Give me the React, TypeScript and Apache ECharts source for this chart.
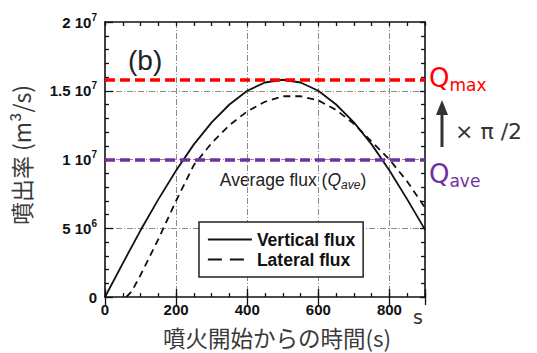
import React, { useEffect, useRef } from "react";
import * as echarts from "echarts";

const verticalTime = [0, 50, 100, 150, 200, 250, 300, 350, 400, 450, 500, 550, 600, 650, 700, 750, 800, 850, 900];
const verticalFlux = [0, 2.45e6, 4.85e6, 7.1e6, 9.2e6, 11.1e6, 12.7e6, 14.0e6, 15.0e6, 15.6e6, 15.8e6, 15.6e6, 15.0e6, 14.0e6, 12.7e6, 11.1e6, 9.2e6, 7.1e6, 4.9e6];
const lateralTime = [60, 75, 100, 125, 150, 175, 200, 250, 300, 350, 400, 450, 500, 550, 600, 650, 700, 750, 800, 850, 900];
const lateralFlux = [0, 0.4e6, 1.6e6, 2.9e6, 4.2e6, 5.6e6, 7.0e6, 9.6e6, 11.2e6, 12.5e6, 13.5e6, 14.2e6, 14.6e6, 14.6e6, 14.3e6, 13.6e6, 12.6e6, 11.3e6, 10.0e6, 8.4e6, 6.5e6];
const qMax = 1.58e7;
const qAve = 1.0e7;
const xTickValues = [0, 200, 400, 600, 800];
const yTickValues = [0, 5e6, 1e7, 1.5e7, 2e7];
const yTickMantissa = ["0", "5 10", "1 10", "1.5 10", "2 10"];
const yTickExponent = ["", "6", "7", "7", "7"];
const seriesNames = ["Vertical flux", "Lateral flux"];

const SANS = "'Liberation Sans', Arial, sans-serif";
const JP = "'Noto Sans CJK JP', sans-serif";
const DV = "'DejaVu Sans', sans-serif";

export default function App() {
  const ref = useRef<HTMLDivElement>(null);
  useEffect(() => {
    if (!ref.current) return;
    const chart = echarts.init(ref.current, null, { renderer: "svg" });
    const gridLine = { show: true, lineStyle: { color: "#8a8a8a", width: 1, type: [6, 2, 1, 2] } };
    const axisLine = { show: true, onZero: false, lineStyle: { color: "#111", width: 1.6 } };
    const xBase = { type: "value", min: 0, max: 900 } as any;
    const yBase = { type: "value", min: 0, max: 2e7 } as any;
    const hiddenIcon = { color: "rgba(0,0,0,0)", borderWidth: 0, opacity: 0 };
    const option: any = {
      animation: false,
      backgroundColor: "#ffffff",
      grid: { left: 105, top: 22, width: 320, height: 275 },
      xAxis: [
        {
          ...xBase, position: "bottom", interval: 50,
          axisLine, axisTick: { inside: true, length: 4, lineStyle: { color: "#111", width: 1.3 } },
          axisLabel: {
            margin: 5, color: "#111", fontSize: 15, fontWeight: "bold", fontFamily: SANS,
            formatter: (v: number) => (xTickValues.includes(v) ? String(v) : ""),
          },
          splitLine: { show: false },
        },
        {
          ...xBase, position: "bottom", interval: 200,
          axisLine: { show: false }, axisTick: { inside: true, length: 8, lineStyle: { color: "#111", width: 1.3 } },
          axisLabel: { show: false },
          splitLine: { ...gridLine, showMinLine: false, showMaxLine: false },
        },
        {
          ...xBase, position: "top", interval: 50,
          axisLine, axisTick: { inside: true, length: 4, lineStyle: { color: "#111", width: 1.3 } },
          axisLabel: { show: false }, splitLine: { show: false },
        },
        {
          ...xBase, position: "top", interval: 200,
          axisLine: { show: false }, axisTick: { inside: true, length: 8, lineStyle: { color: "#111", width: 1.3 } },
          axisLabel: { show: false }, splitLine: { show: false },
        },
      ],
      yAxis: [
        {
          ...yBase, position: "left", interval: 5e6,
          axisLine, axisTick: { inside: true, length: 8, lineStyle: { color: "#111", width: 1.3 } },
          minorTick: { show: true, splitNumber: 5, length: 4, lineStyle: { color: "#111", width: 1.3 } },
          axisLabel: {
            margin: 8, color: "#111",
            formatter: (v: number) => {
              const i = yTickValues.indexOf(v);
              if (i < 0) return "";
              return yTickExponent[i] ? `{n|${yTickMantissa[i]}}{s|${yTickExponent[i]}}` : `{n|${yTickMantissa[i]}}`;
            },
            rich: {
              n: { fontSize: 15, fontWeight: "bold", fontFamily: SANS, color: "#111", lineHeight: 20 },
              s: { fontSize: 10, fontWeight: "bold", fontFamily: SANS, color: "#111", verticalAlign: "top", lineHeight: 10 },
            },
          },
          splitLine: { ...gridLine, showMinLine: false, showMaxLine: false },
        },
        {
          ...yBase, position: "right", interval: 5e6,
          axisLine, axisTick: { inside: true, length: 5, lineStyle: { color: "#111", width: 1.3 } },
          minorTick: { show: true, splitNumber: 5, length: 4, lineStyle: { color: "#111", width: 1.3 } },
          axisLabel: { show: false }, splitLine: { show: false },
        },
      ],
      legend: {
        left: 199, top: 222, orient: "vertical",
        backgroundColor: "#ffffff", borderColor: "#222", borderWidth: 1.5, borderRadius: 0,
        padding: [8, 8, 8, 8], itemWidth: 44, itemHeight: 14, itemGap: 1,
        textStyle: { fontSize: 17.5, fontWeight: "bold", fontFamily: SANS, color: "#111", lineHeight: 19 },
        itemStyle: hiddenIcon,
        data: [
          { name: seriesNames[0], itemStyle: hiddenIcon, lineStyle: { type: "solid", width: 1.8, color: "#111" } },
          { name: seriesNames[1], itemStyle: hiddenIcon, lineStyle: { type: [14, 8], width: 1.8, color: "#111" } },
        ],
      },
      series: [
        {
          name: seriesNames[0], type: "line", symbol: "none",
          data: verticalTime.map((t, i) => [t, verticalFlux[i]]),
          lineStyle: { color: "#111", width: 1.8, type: "solid" },
          itemStyle: { color: "#111" },
          z: 3,
        },
        {
          name: seriesNames[1], type: "line", symbol: "none",
          data: lateralTime.map((t, i) => [t, lateralFlux[i]]),
          lineStyle: { color: "#111", width: 1.8, type: [7, 5] },
          itemStyle: { color: "#111" },
          z: 3,
        },
        {
          name: "levels", type: "line", data: [], z: 4,
          markLine: {
            silent: true, symbol: ["none", "none"], label: { show: false },
            data: [
              { yAxis: qMax, lineStyle: { color: "#ff0000", width: 3.5, type: [10, 5] } },
              { yAxis: qAve, lineStyle: { color: "#7030a0", width: 3.5, type: [10, 5] } },
            ],
          },
        },
      ],
      graphic: [
        { type: "text", left: 128, top: 46, style: { text: "(b)", fontSize: 28, fontFamily: SANS, fill: "#222" } },
        {
          type: "text", x: 293, y: 180,
          style: {
            text: "{t|Average flux (}{q|Q}{sub|ave}{t|)}",
            align: "center", verticalAlign: "middle",
            rich: {
              t: { fontSize: 17.5, fontFamily: SANS, fill: "#222", lineHeight: 22 },
              q: { fontSize: 17.5, fontFamily: SANS, fontStyle: "italic", fill: "#222", lineHeight: 22 },
              sub: { fontSize: 12, fontFamily: SANS, fontStyle: "italic", fill: "#222", verticalAlign: "bottom", lineHeight: 16 },
            },
          },
        },
        {
          type: "text", x: 429, y: 78,
          style: {
            text: "{q|Q}{s|max}", verticalAlign: "middle",
            rich: {
              q: { fontSize: 26, fontFamily: DV, fill: "#ff0000", lineHeight: 30 },
              s: { fontSize: 17, fontFamily: DV, fill: "#ff0000", verticalAlign: "bottom", lineHeight: 20 },
            },
          },
        },
        {
          type: "text", x: 429, y: 174,
          style: {
            text: "{q|Q}{s|ave}", verticalAlign: "middle",
            rich: {
              q: { fontSize: 26, fontFamily: DV, fill: "#7030a0", lineHeight: 30 },
              s: { fontSize: 17, fontFamily: DV, fill: "#7030a0", verticalAlign: "bottom", lineHeight: 20 },
            },
          },
        },
        { type: "line", shape: { x1: 442, y1: 112, x2: 442, y2: 147 }, style: { stroke: "#333", lineWidth: 3 } },
        { type: "polygon", shape: { points: [[442, 100], [436, 115], [448, 115]] }, style: { fill: "#333" } },
        { type: "text", x: 455, y: 131, style: { text: "× π /2", fontSize: 22, fontFamily: DV, fill: "#333", verticalAlign: "middle" } },
        { type: "text", x: 413, y: 317, style: { text: "s", fontSize: 19, fontFamily: DV, fill: "#333", verticalAlign: "middle" } },
        {
          type: "text", x: 21, y: 155, rotation: Math.PI / 2,
          style: { text: "噴出率 (m³/s)", fontSize: 23, fontFamily: JP, fill: "#3a3a3a", align: "center", verticalAlign: "middle" },
        },
        {
          type: "text", x: 277, y: 336.5,
          style: { text: "噴火開始からの時間(s)", fontSize: 22.5, fontFamily: JP, fill: "#3a3a3a", align: "center", verticalAlign: "middle", lineHeight: 23 },
        },
      ],
    };
    chart.setOption(option);
    return () => chart.dispose();
  }, []);
  return <div ref={ref} style={{ position: "absolute", left: 0, top: 0, width: 537, height: 353 }} />;
}
